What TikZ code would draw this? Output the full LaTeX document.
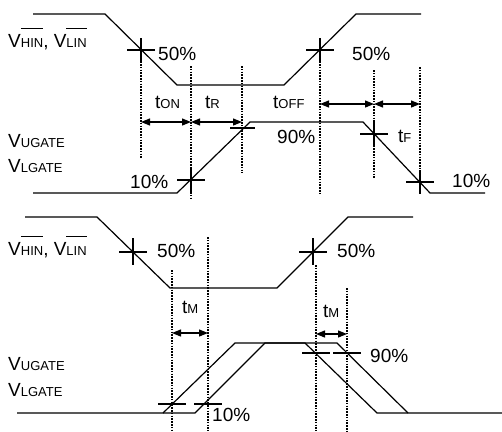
\documentclass[tikz,border=0pt]{standalone}
\usepackage{fontspec}
\setmainfont{Liberation Sans}
\usetikzlibrary{arrows.meta}

\newcommand\lo[1]{{\fontsize{13}{13}\selectfont #1}}
\newcommand\ovl[1]{\setbox0\hbox{#1}\rlap{\rule[18.5pt]{\wd0}{0.9pt}}\box0}

\begin{document}
\begin{tikzpicture}[x=1pt,y=-1pt,
    sig/.style={line width=1.2pt},
    guide/.style={dash pattern=on 1.6pt off 1.2pt,line width=2pt},
    dim/.style={{Triangle[length=9pt,width=7pt]}-{Triangle[length=9pt,width=7pt]},line width=1.2pt},
    lbl/.style={anchor=base west,inner sep=0pt,font=\fontsize{19}{22}\selectfont}]
    \useasboundingbox (0,0) rectangle (502,431);

    % Switching times: input
    \draw[sig] (33,14) -- (105,14) -- (177,85) -- (284,85) -- (356,14) -- (421,14);
    \node[lbl] (vin1) at (8,47) {V\lo{\ovl{HIN}}, V\lo{\ovl{LIN}}};

    % Switching times: gate output
    \draw[sig] (33,193) -- (177,193) -- (250,122) -- (363,122) -- (430,193) -- (485,193);
    \node[lbl] (vug1) at (8,147) {V\lo{UGATE}};
    \node[lbl] (vlg1) at (8,172) {V\lo{LGATE}};

    % crossing points
    \coordinate (p1) at (141,50);
    \coordinate (p2) at (191,180);
    \coordinate (p3) at (242,128);
    \coordinate (p4) at (320,50);
    \coordinate (p5) at (374,134);
    \coordinate (p6) at (420,182);
    \foreach \p in {p1,p2,p4,p5,p6}
        \draw[sig] (\p) +(-14,0) -- +(14,0) (\p) +(0,-12) -- +(0,12);
    \draw[sig] (p3) +(-12,0) -- +(13,0);

    \draw[guide] (p1) -- (141,158);
    \draw[guide] (191,66) -- (191,200);
    \draw[guide] (242,66) -- (242,173);
    \draw[guide] (p4) -- (320,195);
    \draw[guide] (374,70) -- (374,178);
    \draw[guide] (420,67) -- (420,193);

    \draw[dim] (141,122) coordinate (a1) -- (191,122) coordinate (a2);
    \draw[dim] (a2) -- (242,122) coordinate (a3);
    \draw[dim] (320,104) coordinate (b1) -- (374,104) coordinate (b2);
    \draw[dim] (b2) -- (420,104) coordinate (b3);

    \node[lbl] (h1) at (158,60) {50\%};
    \node[lbl] (h2) at (352,60) {50\%};
    \node[lbl] (h3) at (130,188) {10\%};
    \node[lbl] (h4) at (452,187) {10\%};
    \node[lbl] (h5) at (277,143) {90\%};
    \node[lbl] (ton) at (155,108) {t\lo{ON}};
    \node[lbl] (tr) at (205,108) {t\lo{R}};
    \node[lbl] (toff) at (273,108) {t\lo{OFF}};
    \node[lbl] (tf) at (398,142) {t\lo{F}};

    % Dead time: input
    \draw[sig] (25,217) -- (97,217) -- (170,288) -- (277,288) -- (348,217) -- (413,217);
    \node[lbl] (vin2) at (8,255) {V\lo{\ovl{HIN}}, V\lo{\ovl{LIN}}};

    % Dead time: both gate outputs
    \draw[sig] (17,413) -- (163,413) -- (235,343) -- (305,343) -- (377,413) -- (502,413);
    \draw[sig] (163,413) -- (195,413) -- (265,343) -- (337,343) -- (408,413);
    \node[lbl] (vug2) at (8,370) {V\lo{UGATE}};
    \node[lbl] (vlg2) at (8,396) {V\lo{LGATE}};

    \coordinate (q1) at (133,252);
    \coordinate (q2) at (313,252);
    \coordinate (q3) at (172,404);
    \coordinate (q4) at (208,404);
    \coordinate (q5) at (316,353);
    \coordinate (q6) at (347,353);
    \foreach \p in {q1,q2}
        \draw[sig] (\p) +(-14,0) -- +(14,0) (\p) +(0,-14) -- +(0,13);
    \foreach \p in {q3,q4,q5,q6}
        \draw[sig] (\p) +(-14,0) -- +(14,0);

    \draw[guide] (172,270) -- (172,431);
    \draw[guide] (208,237) -- (208,431);
    \draw[guide] (316,265) -- (316,431);
    \draw[guide] (347,288) -- (347,431);

    \draw[dim] (172,333) coordinate (c1) -- (208,333) coordinate (c2);
    \draw[dim] (316,334) coordinate (d1) -- (347,334) coordinate (d2);

    \node[lbl] (h6) at (157,257) {50\%};
    \node[lbl] (h7) at (337,257) {50\%};
    \node[lbl] (h8) at (212,421) {10\%};
    \node[lbl] (h9) at (370,362) {90\%};
    \node[lbl] (tm1) at (182,313) {t\lo{M}};
    \node[lbl] (tm2) at (323,317) {t\lo{M}};
\end{tikzpicture}
\end{document}
